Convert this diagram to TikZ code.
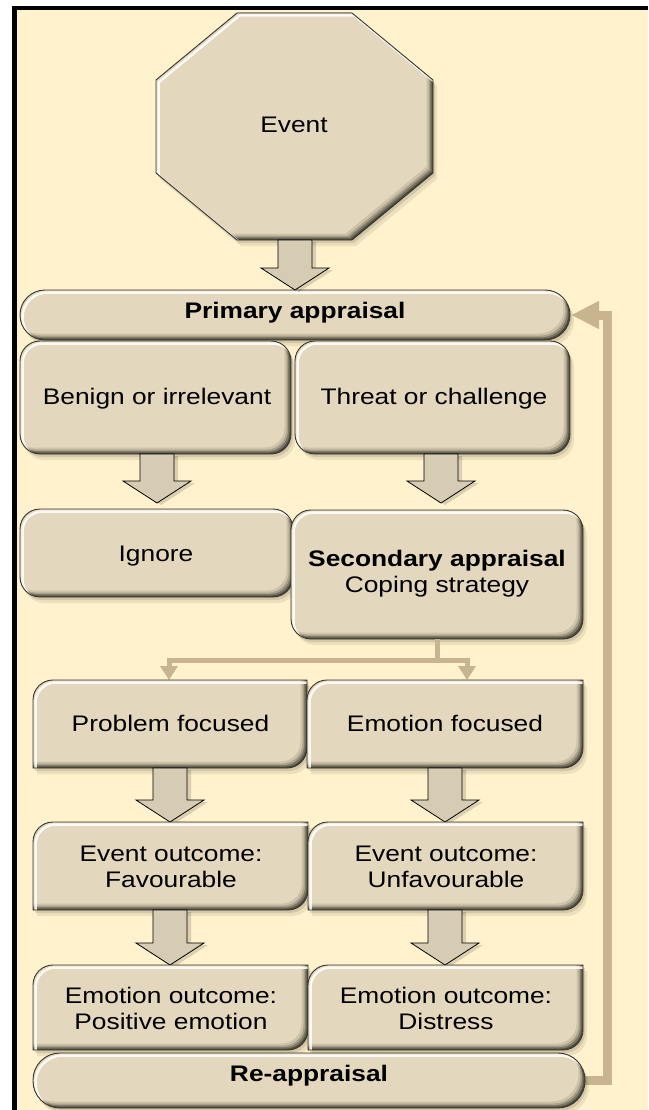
\documentclass[tikz,border=0pt]{standalone}
\usepackage{fontspec}
\setmainfont{Liberation Sans}[FakeStretch=1.17]
\usetikzlibrary{arrows.meta,calc}

\definecolor{paper}{HTML}{FFF2CC}
\definecolor{boxfill}{HTML}{E3D8BE}
\definecolor{bevA}{HTML}{4E4A3E}
\definecolor{bevB}{HTML}{7D7664}
\definecolor{bevC}{HTML}{A8A08A}
\definecolor{bevD}{HTML}{CCC2A8}
\definecolor{edge}{HTML}{3A372E}
\definecolor{arrowfill}{HTML}{D6CCB3}
\definecolor{linktan}{HTML}{C8B48E}

% A bevelled panel: soft drop shadow, darker lower-right rim,
% light upper-left rim and a thin outline.
\newcommand\bevelled[1]{%
  \fill[black, opacity=.10, shift={(2,3)}] #1;
  \fill[black, opacity=.08, shift={(4,6)}] #1;
  \begin{scope}
    \clip #1;
    \fill[bevA] #1;
    \fill[bevB, shift={(-1.5,-1.5)}] #1;
    \fill[bevC, shift={(-3,-3)}] #1;
    \fill[bevD, shift={(-4.5,-4.5)}] #1;
    \fill[boxfill, shift={(-6.5,-6.5)}] #1;
    \draw[white, opacity=.85, line width=2.5, shift={(2.5,2.5)}] #1;
  \end{scope}
  \draw[edge, line width=.9] #1;
}

% Panel with rounded top-left and bottom-right corners, square elsewhere.
\newcommand\bevelsnip[4]{%
  \bevelled{({#1},{#4}) -- ({#1},{#2+20}) .. controls ({#1},{#2+9}) and ({#1+9},{#2}) .. ({#1+20},{#2})
    -- ({#3},{#2}) -- ({#3},{#4-20}) .. controls ({#3},{#4-9}) and ({#3-9},{#4}) .. ({#3-20},{#4}) -- cycle}%
}

% Downward block arrow between two named points on the same vertical.
\newcommand\blockarrow[2]{%
  \begin{scope}[transform canvas={shift={(4,2)}}]
    \fill[black, opacity=.14]
      ($(#1)+(-17,0)$) -- ($(#2)+(-17,-22)$) -- ($(#2)+(-34,-22)$) -- (#2)
      -- ($(#2)+(34,-22)$) -- ($(#2)+(17,-22)$) -- ($(#1)+(17,0)$) -- cycle;
  \end{scope}
  \filldraw[fill=arrowfill, draw=black, line width=.8, line join=miter]
      ($(#1)+(-17,0)$) -- ($(#2)+(-17,-22)$) -- ($(#2)+(-34,-22)$) -- (#2)
      -- ($(#2)+(34,-22)$) -- ($(#2)+(17,-22)$) -- ($(#1)+(17,0)$) -- cycle;
}

\begin{document}
\begin{tikzpicture}[x=1pt, y=-1pt,
  lbl/.style={font=\fontsize{22.5}{26}\selectfont, align=center, inner sep=0pt, text=black},
  lblb/.style={lbl, font=\fontsize{22.5}{26}\selectfont\bfseries},
  link/.style={draw=linktan, line width=5, line join=miter},
  linkhead/.style={-{Triangle[width=17pt,length=14pt]}},
  loopback/.style={draw=linktan, line width=9, line join=miter,
                   -{Triangle[width=26pt,length=28pt]}},
]
\useasboundingbox (0,0) rectangle (648,1110);

% page, paper and frame
\fill[white] (0,0) rectangle (648,1110);
\fill[paper] (15,8) rectangle (648,1110);
\fill[black] (12,6) rectangle (17,1110);
\fill[black] (12,6) rectangle (648,10);

% named anchor points for the connectors
\coordinate (oct-s)    at (295,240);
\coordinate (prim-n)   at (295,290);
\coordinate (prim-e)   at (571,315);
\coordinate (benign-s) at (157,454);
\coordinate (ignore-n) at (157,503);
\coordinate (threat-s) at (441,454);
\coordinate (sec-n)    at (441,503);
\coordinate (sec-s)    at (437,639);
\coordinate (split)    at (437,660);
\coordinate (pf-n)     at (169,680);
\coordinate (ef-n)     at (467,680);
\coordinate (pf-s)     at (170,768);
\coordinate (evf-n)    at (170,822);
\coordinate (ef-s)     at (445,768);
\coordinate (evu-n)    at (445,822);
\coordinate (evf-s)    at (170,910);
\coordinate (emp-n)    at (170,965);
\coordinate (evu-s)    at (445,910);
\coordinate (emd-n)    at (445,965);
\coordinate (reapp-e)  at (583,1080);
\coordinate (fb-turn)  at (607,1080);

% loop from re-appraisal back to primary appraisal
\draw[loopback] (reapp-e) -- (fb-turn) |- (prim-e);

% Event
\bevelled{(237,13) -- (352,13) -- (433,80) -- (433,173) -- (352,240) -- (237,240) -- (156,173) -- (156,80) -- cycle}
\node[lbl, anchor=base] (event) at (294,133) {Event};

% Primary appraisal
\bevelled{[rounded corners=25] (20,290) rectangle (570,340)}
\node[lblb, anchor=base] (primary) at (295,318) {Primary appraisal};
\blockarrow{oct-s}{prim-n}

% appraisal outcomes
\bevelled{[rounded corners=20] (20,341) rectangle (291,454)}
\node[lbl, anchor=base] (benign) at (157,404) {Benign or irrelevant};
\bevelled{[rounded corners=20] (295,341) rectangle (570,454)}
\node[lbl, anchor=base] (threat) at (434,404) {Threat or challenge};
\blockarrow{benign-s}{ignore-n}
\blockarrow{threat-s}{sec-n}

% Ignore / Secondary appraisal
\bevelled{[rounded corners=20] (20,509) rectangle (293,597)}
\node[lbl, anchor=base] (ignore) at (156,561) {Ignore};
\bevelled{[rounded corners=20] (291,510) rectangle (583,639)}
\node[lbl] (secondary) at (437,573.5) {\textbf{Secondary appraisal}\\Coping strategy};

% split to the two coping strategies
\draw[link] (sec-s) -- (split);
\draw[link, linkhead] (split) -| (pf-n);
\draw[link, linkhead] (split) -| (ef-n);

% coping strategies
\bevelsnip{33}{680}{307}{768}
\node[lbl, anchor=base] (problem) at (170.5,731) {Problem focused};
\bevelsnip{307}{680}{583}{768}
\node[lbl, anchor=base] (emotion) at (445,731) {Emotion focused};
\blockarrow{pf-s}{evf-n}
\blockarrow{ef-s}{evu-n}

% event outcomes
\bevelsnip{33}{822}{308}{910}
\node[lbl] (evfav) at (171,867) {Event outcome:\\Favourable};
\bevelsnip{308}{822}{583}{910}
\node[lbl] (evunfav) at (446,867) {Event outcome:\\Unfavourable};
\blockarrow{evf-s}{emp-n}
\blockarrow{evu-s}{emd-n}

% emotion outcomes
\bevelsnip{33}{965}{308}{1050}
\node[lbl] (empos) at (171,1008.5) {Emotion outcome:\\Positive emotion};
\bevelsnip{308}{965}{583}{1050}
\node[lbl] (emdis) at (446,1008.5) {Emotion outcome:\\Distress};

% Re-appraisal
\bevelled{[rounded corners=27] (33,1053) rectangle (585,1108)}
\node[lblb, anchor=base] (reapp) at (309,1081) {Re-appraisal};

\end{tikzpicture}
\end{document}
